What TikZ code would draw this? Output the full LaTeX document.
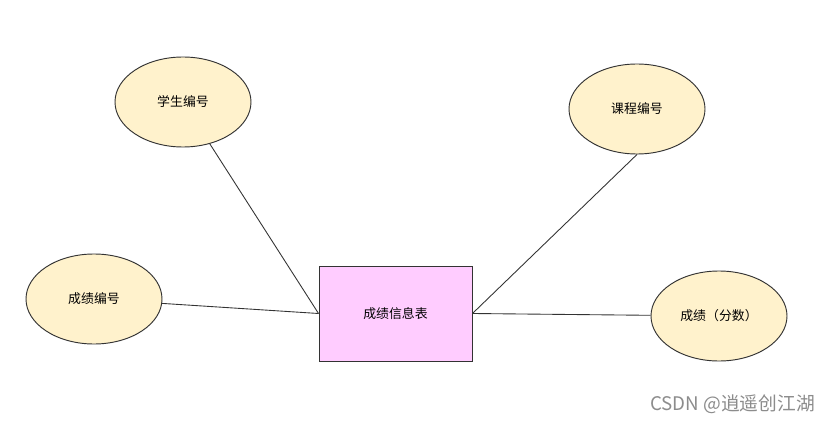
\documentclass[tikz,border=0pt]{standalone}
\usepackage{fontspec}
\setmainfont{Noto Sans CJK SC}
\usetikzlibrary{shapes.geometric}
\definecolor{attrfill}{HTML}{FFF2CC}
\definecolor{tblfill}{HTML}{FFCCFF}
\definecolor{edge}{HTML}{333333}
\begin{document}
\begin{tikzpicture}[
    x=0.03cm,y=-0.03cm,
    attr/.style={ellipse,draw=edge,fill=attrfill,line width=0.8pt,minimum width=4.08cm,minimum height=2.7cm,inner sep=0pt,font=\fontsize{11}{13}\selectfont},
    entity/.style={rectangle,draw=edge,fill=tblfill,line width=0.8pt,minimum width=4.59cm,minimum height=2.85cm,inner sep=0pt,font=\fontsize{11}{13}\selectfont},
    link/.style={draw=edge,line width=0.75pt}
  ]
    \useasboundingbox[fill=white] (0,0) rectangle (830,424);
    \node[entity] (tbl) at (395.5,313.5) {成绩信息表};
    \node[attr] (sid) at (183,102) {学生编号};
    \node[attr] (cid) at (637,109) {课程编号};
    \node[attr] (gid) at (94,299) {成绩编号};
    \node[attr] (score) at (719,316) {成绩（分数）};
    \draw[link] (sid) -- (tbl.west);
    \draw[link] (gid) -- (tbl.west);
    \draw[link] (cid.south) -- (tbl.east);
    \draw[link] (tbl.east) -- (score);
    \node[text=black!45,font=\fontsize{16}{18}\selectfont,anchor=east,inner sep=0pt] (mark) at (815,404) {CSDN @逍遥创江湖};
  \end{tikzpicture}
\end{document}
